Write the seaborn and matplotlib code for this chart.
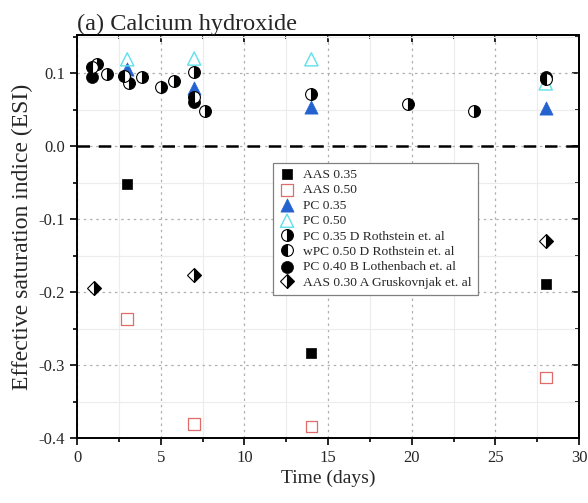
import numpy as np
import pandas as pd
import matplotlib
matplotlib.use("Agg")
import matplotlib.pyplot as plt
from matplotlib.ticker import MultipleLocator
import seaborn as sns

# ---- data ----
aas035_x = [3, 14, 28]
aas035_y = [-0.052, -0.284, -0.189]
aas050_x = [3, 7, 14, 28]
aas050_y = [-0.237, -0.381, -0.384, -0.317]
pc035_x = [3, 7, 14, 28]
pc035_y = [0.106, 0.079, 0.053, 0.052]
pc050_x = [3, 7, 14, 28]
pc050_y = [0.119, 0.120, 0.119, 0.086]
roth035_x = [1.2, 1.8, 3.1, 3.9, 5.0, 5.8, 7.0, 7.65, 14, 19.8, 23.7]
roth035_y = [0.112, 0.099, 0.086, 0.095, 0.081, 0.089, 0.102, 0.048, 0.072, 0.058, 0.048]
wroth050_x = [0.9, 2.8, 7.0, 28]
wroth050_y = [0.108, 0.096, 0.068, 0.092]
loth040_x = [0.9, 7.0, 28]
loth040_y = [0.095, 0.061, 0.095]
grus030_x = [1.0, 7.0, 28]
grus030_y = [-0.194, -0.177, -0.130]

labels = ["AAS 0.35", "AAS 0.50", "PC 0.35", "PC 0.50",
          "PC 0.35 D Rothstein et. al", "wPC 0.50 D Rothstein et. al",
          "PC 0.40 B Lothenbach et. al", "AAS 0.30 A Gruskovnjak et. al"]

sns.set_theme(style="white")
plt.rcParams['font.family'] = ['Liberation Serif', 'DejaVu Serif']
plt.rcParams['mathtext.fontset'] = 'stix'

fig = plt.figure(figsize=(5.88, 5.03), dpi=100)
ax = fig.add_axes([0.131, 0.129, 0.854, 0.801])

# grids
ax.xaxis.set_major_locator(MultipleLocator(5))
ax.xaxis.set_minor_locator(MultipleLocator(2.5))
ax.yaxis.set_major_locator(MultipleLocator(0.1))
ax.yaxis.set_minor_locator(MultipleLocator(0.05))
ax.grid(which='major', color='#b0b0b0', linestyle=(0, (2, 3)), linewidth=0.9)
ax.grid(which='minor', color='#ececec', linestyle='-', linewidth=0.8)
ax.set_axisbelow(True)

ax.axhline(0, color='black', linestyle=(0, (5, 3.5)), linewidth=1.8, zorder=2)

df = lambda x, y: pd.DataFrame({"x": x, "y": y})

sns.scatterplot(data=df(aas035_x, aas035_y), x="x", y="y", ax=ax, marker='s',
                s=60, color='black', edgecolor='black', linewidth=0.5, label=labels[0], zorder=3)
sns.scatterplot(data=df(aas050_x, aas050_y), x="x", y="y", ax=ax, marker='s',
                s=70, facecolor='none', edgecolor='#e06b6b', linewidth=0.9, label=labels[1], zorder=3)
sns.scatterplot(data=df(pc035_x, pc035_y), x="x", y="y", ax=ax, marker='^',
                s=90, color='#2462d0', edgecolor='#2462d0', linewidth=0.5, label=labels[2], zorder=3)
sns.scatterplot(data=df(pc050_x, pc050_y), x="x", y="y", ax=ax, marker='^',
                s=90, facecolor='none', edgecolor='#5fe0ea', linewidth=1.0, label=labels[3], zorder=3)

ax.plot(roth035_x, roth035_y, linestyle='', marker='o', markersize=8.5, fillstyle='right',
        markerfacecolor='black', markerfacecoloralt='white', markeredgecolor='black',
        markeredgewidth=0.8, label=labels[4], zorder=4)
ax.plot(wroth050_x, wroth050_y, linestyle='', marker='o', markersize=8.5, fillstyle='left',
        markerfacecolor='black', markerfacecoloralt='white', markeredgecolor='black',
        markeredgewidth=0.8, label=labels[5], zorder=4)
sns.scatterplot(data=df(loth040_x, loth040_y), x="x", y="y", ax=ax, marker='o',
                s=75, color='black', edgecolor='black', linewidth=0.5, label=labels[6], zorder=3)
ax.plot(grus030_x, grus030_y, linestyle='', marker='D', markersize=7.5, fillstyle='right',
        markerfacecolor='black', markerfacecoloralt='white', markeredgecolor='black',
        markeredgewidth=0.8, label=labels[7], zorder=4)

ax.set_xlim(0, 30)
ax.set_ylim(-0.4, 0.152)

ax.set_xlabel("Time (days)", fontsize=14, labelpad=3)
ax.set_ylabel("Effective saturation indice (ESI)", fontsize=17, labelpad=4)
ax.set_title("(a) Calcium hydroxide", loc='left', fontsize=17.5, pad=4)

ax.set_xticks([0, 5, 10, 15, 20, 25, 30])
ax.set_xticklabels(["0", "5", "10", "15", "20", "25", "30"])
ax.set_yticks([-0.4, -0.3, -0.2, -0.1, 0.0, 0.1])
ax.set_yticklabels(["-0.4", "-0.3", "-0.2", "-0.1", "0.0", "0.1"])

for sp in ax.spines.values():
    sp.set_visible(True)
    sp.set_color('black')
    sp.set_linewidth(1.4)

ax.tick_params(which='both', direction='out', bottom=True, left=True, top=False, right=False,
               labelsize=12, color='black', width=1.2)
ax.tick_params(which='major', length=5)
ax.tick_params(which='minor', length=3)

# inward ticks on top and right
axt = ax.secondary_xaxis('top')
axt.xaxis.set_major_locator(MultipleLocator(5))
axt.xaxis.set_minor_locator(MultipleLocator(2.5))
axt.tick_params(which='both', direction='in', labeltop=False, width=1.2, color='black')
axt.tick_params(which='major', length=5)
axt.tick_params(which='minor', length=3)
axt.spines['top'].set_linewidth(1.4)
axr = ax.secondary_yaxis('right')
axr.yaxis.set_major_locator(MultipleLocator(0.1))
axr.yaxis.set_minor_locator(MultipleLocator(0.05))
axr.tick_params(which='both', direction='in', labelright=False, width=1.2, color='black')
axr.tick_params(which='major', length=5)
axr.tick_params(which='minor', length=3)
axr.spines['right'].set_linewidth(1.4)

leg = ax.legend(loc='upper left', bbox_to_anchor=(0.39, 0.684), fontsize=9.7,
                frameon=True, fancybox=False, edgecolor='#808080', framealpha=1,
                handletextpad=0.6, labelspacing=0.22, borderpad=0.45, handlelength=1.2,
                borderaxespad=0)
leg.get_frame().set_linewidth(0.9)

fig.savefig("out.png", dpi=100)
